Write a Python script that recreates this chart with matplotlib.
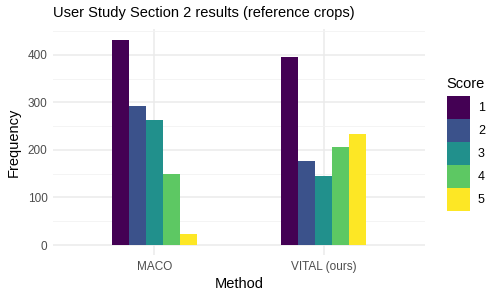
import numpy as np
import matplotlib.pyplot as plt
from matplotlib.patches import Patch

plt.rcParams['font.family'] = ['Liberation Sans', 'DejaVu Sans']

# Datos
methods = ['MACO', 'VITAL (ours)']
scores = ['1', '2', '3', '4', '5']
maco = [432, 293, 262, 149, 23]
vital = [396, 177, 145, 206, 234]
colors = ['#440154', '#3B528B', '#21908C', '#5DC863', '#FDE725']

valores = np.array([maco, vital])

fig = plt.figure(figsize=(5, 3), dpi=100)
ax = fig.add_axes([0.106, 0.149, 0.744, 0.753])

x = np.arange(1, len(methods) + 1)
ancho = 0.1
for j, s in enumerate(scores):
    ax.bar(x + (j - 2) * ancho, valores[:, j], width=ancho, color=colors[j],
           linewidth=0, zorder=3)

ax.set_xlim(0.4, 2.6)
ymax = valores.max()
ax.set_ylim(-0.05 * ymax, 1.05 * ymax)
ax.set_xticks(x)
ax.set_xticklabels(methods)
ax.set_yticks([0, 100, 200, 300, 400])
ax.set_yticks([50, 150, 250, 350, 450], minor=True)

ax.grid(True, which='major', color='#EBEBEB', linewidth=1.1, zorder=0)
ax.grid(True, which='minor', axis='y', color='#F2F2F2', linewidth=0.6, zorder=0)
for sp in ax.spines.values():
    sp.set_visible(False)
ax.tick_params(which='both', length=0, labelsize=8.5, labelcolor='#4D4D4D', pad=4)

ax.set_xlabel('Method', fontsize=10.5, labelpad=3)
ax.set_ylabel('Frequency', fontsize=10.5, labelpad=5)
ax.set_title('User Study Section 2 results (reference crops)', fontsize=10.5,
             loc='left', pad=9)

handles = [Patch(facecolor=c, edgecolor='none', label=s) for c, s in zip(colors, scores)]
leg = fig.legend(handles=handles, title='Score', loc='upper left',
                 bbox_to_anchor=(0.881, 0.765), frameon=False, fontsize=9,
                 title_fontsize=10.5, labelspacing=0, handleheight=2.45,
                 handlelength=1.84, handletextpad=0.65, borderpad=0,
                 alignment='left')
leg._legend_box.sep = 3.6  # espacio entre el título y las claves

fig.savefig('out.png', dpi=100)
